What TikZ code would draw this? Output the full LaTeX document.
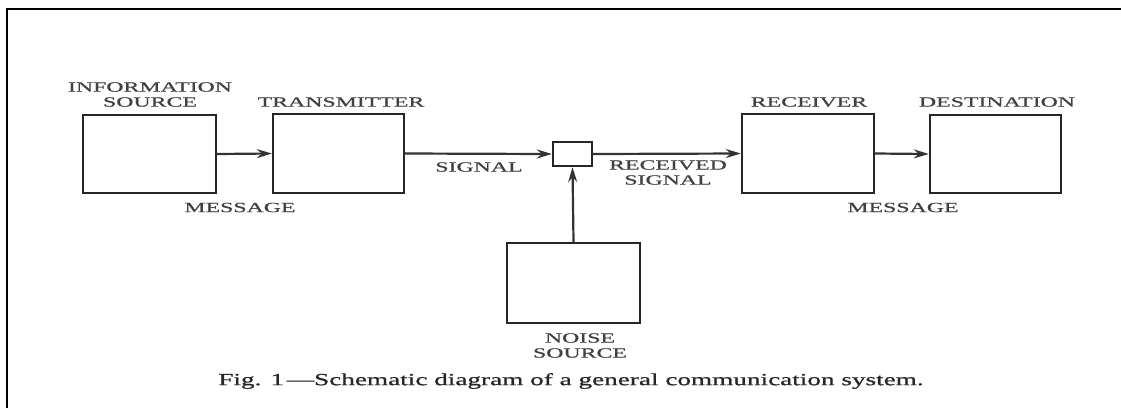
\documentclass[tikz,border=0pt]{standalone}
\usepackage{fontspec}
\setmainfont{Liberation Serif}
\newfontfamily\labfont[FakeStretch=1.7,FakeBold=0.8]{Liberation Serif}
\newfontfamily\capfont[FakeStretch=1.6,FakeBold=0.9]{Liberation Serif}
\usetikzlibrary{arrows.meta}
\begin{document}
\begin{tikzpicture}[x=1pt,y=-1pt,
  blk/.style={draw=black!85,line width=2.4pt,minimum width=#1,inner sep=0pt},
  lab/.style={inner sep=0pt,text=black!75,align=center,font=\fontsize{14}{15}\labfont},
  conn/.style={draw=black!80,line width=2.2pt,-{Stealth[length=15pt,width=9pt,inset=5pt]}},
  frame/.style={draw=black,line width=1.6pt}]
\useasboundingbox (0,0) rectangle (1121,408);
\draw[frame] (7,408) -- (7,9) -- (1121,9);
% blocks
\node[blk=133pt,minimum height=78pt] (src) at (149.5,154) {};
\node[blk=131pt,minimum height=79pt] (tx) at (338.5,153.5) {};
\node[blk=39pt,minimum height=24pt] (mix) at (572.5,154) {};
\node[blk=132pt,minimum height=79pt] (rx) at (808,153.5) {};
\node[blk=131pt,minimum height=78pt] (dst) at (995.5,154) {};
\node[blk=133pt,minimum height=80pt] (noise) at (573.5,283) {};
% connectors
\draw[conn] (src.east) -- (tx.west);
\draw[conn] (tx.east) -- (mix.west);
\draw[conn] (mix.east) -- (rx.west);
\draw[conn] (rx.east) -- (dst.west);
\draw[conn] (noise.north) -- (mix.south);
% labels
\node[lab] (lsrc) at (150,94.5) {INFORMATION\\SOURCE};
\node[lab] (ltx) at (341,102) {TRANSMITTER};
\node[lab] (lsig) at (479,167) {SIGNAL};
\node[lab] (lrsig) at (668,172.5) {RECEIVED\\SIGNAL};
\node[lab] (lrx) at (809,102) {RECEIVER};
\node[lab] (ldst) at (997,102) {DESTINATION};
\node[lab] (lmsg1) at (240,207.5) {MESSAGE};
\node[lab] (lmsg2) at (903,207.5) {MESSAGE};
\node[lab] (lnoise) at (580,345.5) {NOISE\\SOURCE};
\node[inner sep=0pt,text=black!85,font=\fontsize{17}{20}\capfont] (cap) at (571,381)
  {Fig. 1\,—Schematic diagram of a general communication system.};
\end{tikzpicture}
\end{document}
